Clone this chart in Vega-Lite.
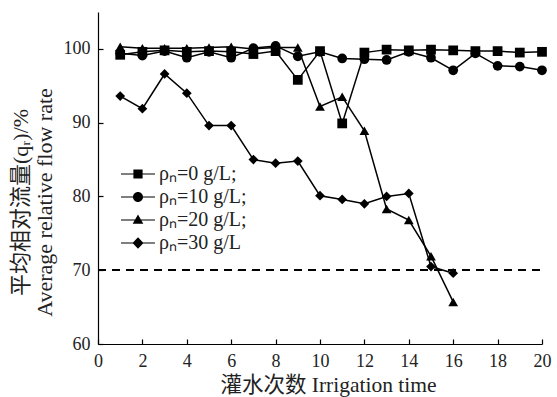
{
  "$schema": "https://vega.github.io/schema/vega-lite/v6.json",
  "autosize": "none",
  "padding": {"left": 98, "top": 12, "right": 15, "bottom": 53},
  "width": 444,
  "height": 332,
  "background": "white",
  "config": {
    "view": {"stroke": null},
    "font": "Liberation Serif, Noto Sans CJK SC",
    "axis": {
      "domainColor": "black", "domainWidth": 1.2, "tickColor": "black", "tickWidth": 1.2,
      "tickSize": -5, "labelFont": "Liberation Serif", "labelFontSize": 18, "labelColor": "#222",
      "titleFont": "Liberation Serif, Noto Sans CJK SC", "titleFontSize": 21.5, "titleFontWeight": "normal", "titleColor": "#222",
      "grid": false
    }
  },
  "datasets": {
    "flow": [
      {"series": "ρₙ=0 g/L;", "x": 1, "y": 99.2}, {"series": "ρₙ=0 g/L;", "x": 2, "y": 99.6},
      {"series": "ρₙ=0 g/L;", "x": 3, "y": 99.8}, {"series": "ρₙ=0 g/L;", "x": 4, "y": 99.6},
      {"series": "ρₙ=0 g/L;", "x": 5, "y": 99.7}, {"series": "ρₙ=0 g/L;", "x": 6, "y": 99.6},
      {"series": "ρₙ=0 g/L;", "x": 7, "y": 99.3}, {"series": "ρₙ=0 g/L;", "x": 8, "y": 99.7},
      {"series": "ρₙ=0 g/L;", "x": 9, "y": 95.8}, {"series": "ρₙ=0 g/L;", "x": 10, "y": 99.7},
      {"series": "ρₙ=0 g/L;", "x": 11, "y": 89.9}, {"series": "ρₙ=0 g/L;", "x": 12, "y": 99.5},
      {"series": "ρₙ=0 g/L;", "x": 13, "y": 99.9}, {"series": "ρₙ=0 g/L;", "x": 14, "y": 99.8},
      {"series": "ρₙ=0 g/L;", "x": 15, "y": 99.9}, {"series": "ρₙ=0 g/L;", "x": 16, "y": 99.8},
      {"series": "ρₙ=0 g/L;", "x": 17, "y": 99.7}, {"series": "ρₙ=0 g/L;", "x": 18, "y": 99.7},
      {"series": "ρₙ=0 g/L;", "x": 19, "y": 99.5}, {"series": "ρₙ=0 g/L;", "x": 20, "y": 99.6},
      {"series": "ρₙ=10 g/L;", "x": 1, "y": 99.4}, {"series": "ρₙ=10 g/L;", "x": 2, "y": 99.1},
      {"series": "ρₙ=10 g/L;", "x": 3, "y": 99.7}, {"series": "ρₙ=10 g/L;", "x": 4, "y": 98.8},
      {"series": "ρₙ=10 g/L;", "x": 5, "y": 99.6}, {"series": "ρₙ=10 g/L;", "x": 6, "y": 98.8},
      {"series": "ρₙ=10 g/L;", "x": 7, "y": 100.1}, {"series": "ρₙ=10 g/L;", "x": 8, "y": 100.4},
      {"series": "ρₙ=10 g/L;", "x": 9, "y": 99.0}, {"series": "ρₙ=10 g/L;", "x": 10, "y": 99.6},
      {"series": "ρₙ=10 g/L;", "x": 11, "y": 98.7}, {"series": "ρₙ=10 g/L;", "x": 12, "y": 98.6},
      {"series": "ρₙ=10 g/L;", "x": 13, "y": 98.5}, {"series": "ρₙ=10 g/L;", "x": 14, "y": 99.6},
      {"series": "ρₙ=10 g/L;", "x": 15, "y": 98.8}, {"series": "ρₙ=10 g/L;", "x": 16, "y": 97.1},
      {"series": "ρₙ=10 g/L;", "x": 17, "y": 99.4}, {"series": "ρₙ=10 g/L;", "x": 18, "y": 97.7},
      {"series": "ρₙ=10 g/L;", "x": 19, "y": 97.6}, {"series": "ρₙ=10 g/L;", "x": 20, "y": 97.1},
      {"series": "ρₙ=20 g/L;", "x": 1, "y": 100.3}, {"series": "ρₙ=20 g/L;", "x": 2, "y": 100.1},
      {"series": "ρₙ=20 g/L;", "x": 3, "y": 100.1}, {"series": "ρₙ=20 g/L;", "x": 4, "y": 100.1},
      {"series": "ρₙ=20 g/L;", "x": 5, "y": 100.2}, {"series": "ρₙ=20 g/L;", "x": 6, "y": 100.3},
      {"series": "ρₙ=20 g/L;", "x": 7, "y": 100.0}, {"series": "ρₙ=20 g/L;", "x": 8, "y": 100.2},
      {"series": "ρₙ=20 g/L;", "x": 9, "y": 100.2}, {"series": "ρₙ=20 g/L;", "x": 10, "y": 92.2},
      {"series": "ρₙ=20 g/L;", "x": 11, "y": 93.5}, {"series": "ρₙ=20 g/L;", "x": 12, "y": 88.9},
      {"series": "ρₙ=20 g/L;", "x": 13, "y": 78.3}, {"series": "ρₙ=20 g/L;", "x": 14, "y": 76.8},
      {"series": "ρₙ=20 g/L;", "x": 15, "y": 71.9}, {"series": "ρₙ=20 g/L;", "x": 16, "y": 65.7},
      {"series": "ρₙ=30 g/L", "x": 1, "y": 93.6}, {"series": "ρₙ=30 g/L", "x": 2, "y": 91.9},
      {"series": "ρₙ=30 g/L", "x": 3, "y": 96.6}, {"series": "ρₙ=30 g/L", "x": 4, "y": 94.0},
      {"series": "ρₙ=30 g/L", "x": 5, "y": 89.6}, {"series": "ρₙ=30 g/L", "x": 6, "y": 89.6},
      {"series": "ρₙ=30 g/L", "x": 7, "y": 85.0}, {"series": "ρₙ=30 g/L", "x": 8, "y": 84.5},
      {"series": "ρₙ=30 g/L", "x": 9, "y": 84.8}, {"series": "ρₙ=30 g/L", "x": 10, "y": 80.1},
      {"series": "ρₙ=30 g/L", "x": 11, "y": 79.6}, {"series": "ρₙ=30 g/L", "x": 12, "y": 79.0},
      {"series": "ρₙ=30 g/L", "x": 13, "y": 80.0}, {"series": "ρₙ=30 g/L", "x": 14, "y": 80.4},
      {"series": "ρₙ=30 g/L", "x": 15, "y": 70.5}, {"series": "ρₙ=30 g/L", "x": 16, "y": 69.6}
    ]
  },
  "data": {"name": "flow"},
  "encoding": {
    "x": {
      "field": "x", "type": "quantitative",
      "scale": {"domain": [0, 20], "nice": false},
      "axis": {"values": [0, 2, 4, 6, 8, 10, 12, 14, 16, 18, 20], "labelPadding": 13, "title": "灌水次数 Irrigation time", "titlePadding": 4, "titleX": 230, "labelFlush": false}
    },
    "y": {
      "field": "y", "type": "quantitative",
      "scale": {"domain": [60, 105], "nice": false, "zero": false},
      "axis": {"values": [60, 70, 80, 90, 100], "labelPadding": 13, "title": ["平均相对流量(qᵣ)/%", "Average relative flow rate"], "titleFontSize": 22, "titlePadding": 7, "titleLineHeight": 24, "titleY": 190, "labelFlush": false}
    }
  },
  "layer": [
    {
      "mark": {"type": "rule", "strokeDash": [8, 6], "strokeWidth": 1.5, "color": "black"},
      "encoding": {"y": {"datum": 70}, "x": {"datum": 0}, "x2": {"datum": 20}}
    },
    {
      "mark": {"type": "line", "color": "black", "strokeWidth": 1.5},
      "encoding": {"detail": {"field": "series"}}
    },
    {
      "mark": {"type": "point", "filled": true, "color": "black", "opacity": 1},
      "encoding": {
        "shape": {
          "field": "series", "type": "nominal",
          "scale": {"domain": ["ρₙ=0 g/L;", "ρₙ=10 g/L;", "ρₙ=20 g/L;", "ρₙ=30 g/L"], "range": ["square", "circle", "triangle-up", "diamond"]},
          "legend": null
        },
        "size": {
          "field": "series", "type": "nominal",
          "scale": {"domain": ["ρₙ=0 g/L;", "ρₙ=10 g/L;", "ρₙ=20 g/L;", "ρₙ=30 g/L"], "range": [95, 95, 105, 150]},
          "legend": null
        }
      }
    },
    {
      "transform": [{"filter": "datum.x > 100"}],
      "mark": {"type": "point", "filled": true, "color": "black", "size": 400},
      "encoding": {
        "shape": {
          "field": "series", "type": "nominal",
          "scale": {"domain": ["ρₙ=0 g/L;", "ρₙ=10 g/L;", "ρₙ=20 g/L;", "ρₙ=30 g/L"],
            "range": [
              "M-1.7,-0.06H1.7V0.06H-1.7Z M-0.46,-0.46H0.46V0.46H-0.46Z",
              "M-1.7,-0.06H1.7V0.06H-1.7Z M-0.5,0 A0.5,0.5 0 1,1 0.5,0 A0.5,0.5 0 1,1 -0.5,0Z",
              "M-1.7,-0.06H1.7V0.06H-1.7Z M0,-0.55L0.53,0.38L-0.53,0.38Z",
              "M-1.7,-0.06H1.7V0.06H-1.7Z M0,-0.58L0.55,0L0,0.58L-0.55,0Z"
            ]},
          "legend": {
            "title": null, "orient": "none", "legendX": 30, "legendY": 152, "padding": 0,
            "symbolSize": 400, "symbolFillColor": "black", "symbolStrokeColor": "black", "symbolStrokeWidth": 0, "symbolOpacity": 1,
            "labelFont": "Liberation Serif", "labelFontSize": 20, "labelColor": "#222", "labelOffset": 11, "rowPadding": 3
          }
        },
        "size": {"value": 400}
      }
    }
  ],
  "resolve": {"scale": {"shape": "independent", "size": "independent"}}
}
